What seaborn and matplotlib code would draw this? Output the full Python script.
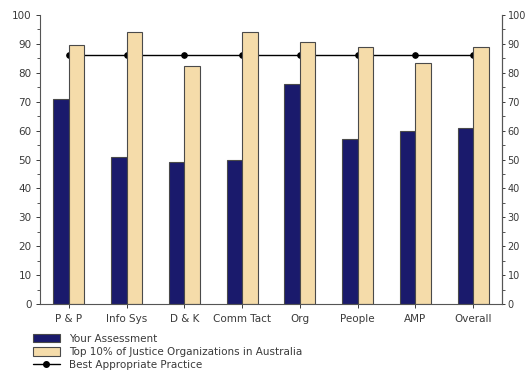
import matplotlib
matplotlib.use("Agg")
import matplotlib.pyplot as plt
from matplotlib.patches import Patch
from matplotlib.lines import Line2D
from matplotlib.ticker import MultipleLocator
import seaborn as sns
import pandas as pd

categories = ["P & P", "Info Sys", "D & K", "Comm Tact", "Org", "People", "AMP", "Overall"]
your_assessment = [71, 51, 49, 50, 76, 57, 60, 61]
top_10_percent = [89.5, 94, 82.5, 94, 90.5, 89, 83.5, 89]
best_practice = [86, 86, 86, 86, 86, 86, 86, 86]

series_names = ["Your Assessment", "Top 10% of Justice Organizations in Australia"]
best_name = "Best Appropriate Practice"
navy = "#1A1A6C"
tan = "#F5DCAA"
text_col = "#3a3a3a"

df = pd.DataFrame({
    "category": categories * 2,
    "value": your_assessment + top_10_percent,
    "series": [series_names[0]] * len(categories) + [series_names[1]] * len(categories),
})

sns.set_style("white")
plt.rcParams["font.family"] = ["DejaVu Sans"]

fig = plt.figure(figsize=(5.27, 3.74), dpi=100)
ax = fig.add_axes([0.0759, 0.187, 0.8767, 0.773])

# reference line sits underneath the bars
sns.pointplot(x=categories, y=best_practice, color="black", markers="o",
              linewidth=1.0, markersize=4, ax=ax, errorbar=None)
for ln in ax.lines:
    ln.set_zorder(0.5)

sns.barplot(data=df, x="category", y="value", hue="series",
            palette=[navy, tan], saturation=1, width=0.54, gap=0, ax=ax,
            edgecolor="#4a4a4a", linewidth=0.8, legend=False, errorbar=None)
for bar in ax.patches:
    bar.set_zorder(1)

ax.set_xlim(-0.5, len(categories) - 0.5)
ax.set_ylim(0, 100)
ax.yaxis.set_major_locator(MultipleLocator(10))
ax.yaxis.set_minor_locator(MultipleLocator(5))
ax.set_xlabel("")
ax.set_ylabel("")

ax.spines["top"].set_visible(False)
for side in ["left", "bottom", "right"]:
    ax.spines[side].set_color("#555555")
    ax.spines[side].set_linewidth(0.8)

ax.tick_params(axis="both", labelsize=7.5, colors=text_col, length=3, width=0.7,
               direction="out", pad=3)
ax.tick_params(axis="x", pad=4, bottom=True)
ax.tick_params(axis="y", which="minor", length=2, width=0.6, color=text_col, left=True)

ax2 = ax.twinx()
ax2.set_ylim(0, 100)
ax2.yaxis.set_major_locator(MultipleLocator(10))
ax2.yaxis.set_minor_locator(MultipleLocator(5))
for side in ["top", "left", "bottom"]:
    ax2.spines[side].set_visible(False)
ax2.spines["right"].set_color("#555555")
ax2.spines["right"].set_linewidth(0.8)
ax2.tick_params(axis="y", labelsize=7, colors=text_col, length=2.5, width=0.7,
                direction="out", pad=1.5, right=True)
ax2.tick_params(axis="y", which="minor", length=2, width=0.6, color=text_col, right=True)

handles = [
    Patch(facecolor=navy, edgecolor="#4a4a4a", linewidth=0.8),
    Patch(facecolor=tan, edgecolor="#4a4a4a", linewidth=0.8),
    Line2D([0], [0], color="black", lw=1, marker="o", markersize=4),
]
fig.legend(handles, series_names + [best_name], loc="upper left",
           bbox_to_anchor=(0.062, 0.108), frameon=False, fontsize=7.5,
           labelcolor=text_col, handlelength=2.6, handleheight=0.9,
           labelspacing=0.32, borderaxespad=0, borderpad=0, handletextpad=0.9)

fig.savefig("out.png", dpi=100)
